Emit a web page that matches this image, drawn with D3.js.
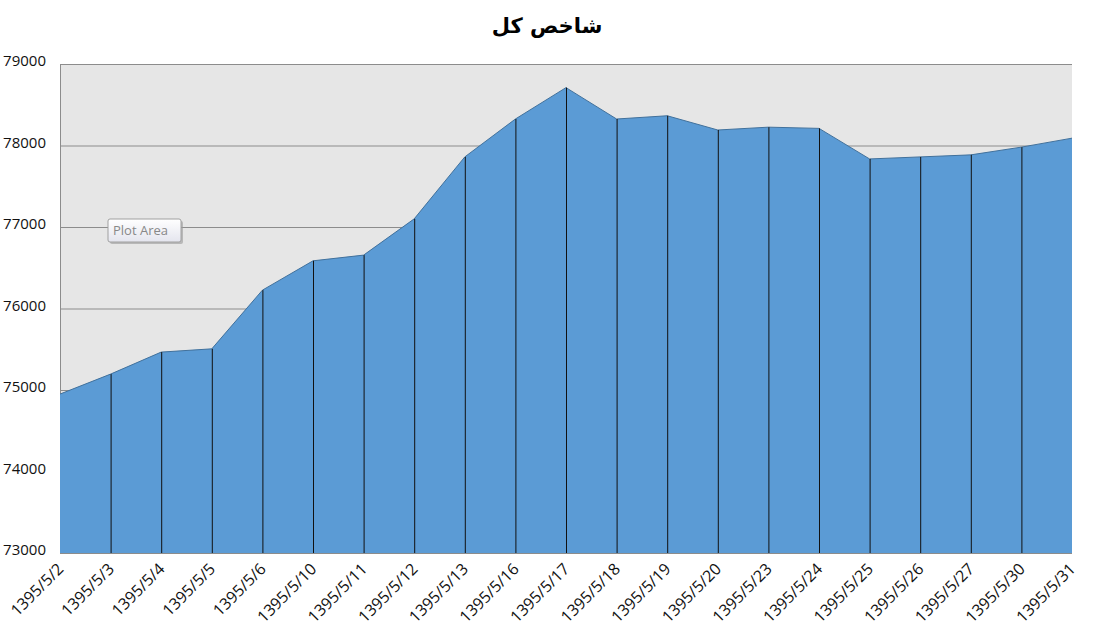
<!DOCTYPE html>
<html>
<head>
<meta charset="utf-8">
<script src="https://cdn.jsdelivr.net/npm/d3@7"></script>
<style>
  body { margin: 0; background: #fff; }
</style>
</head>
<body>
<div id="chart"></div>
<script>
const dates = ["1395/5/2", "1395/5/3", "1395/5/4", "1395/5/5", "1395/5/6", "1395/5/10", "1395/5/11", "1395/5/12", "1395/5/13", "1395/5/16", "1395/5/17", "1395/5/18", "1395/5/19", "1395/5/20", "1395/5/23", "1395/5/24", "1395/5/25", "1395/5/26", "1395/5/27", "1395/5/30", "1395/5/31"];
const values = [74950, 75195, 75465, 75505, 76225, 76585, 76655, 77100, 77860, 78325, 78710, 78325, 78365, 78190, 78225, 78210, 77835, 77860, 77885, 77980, 78090];
const yTicks = [73000, 74000, 75000, 76000, 77000, 78000, 79000];
const title = "شاخص کل";

const data = dates.map((d, i) => ({ date: d, value: values[i] }));

const svg = d3.select("#chart")
  .append("svg")
  .attr("width", 1095)
  .attr("height", 634);

const margin = { left: 60, top: 64, right: 1072, bottom: 553 };

const xScale = d3.scalePoint()
  .domain(dates)
  .range([margin.left, margin.right]);

const yScale = d3.scaleLinear()
  .domain([73000, 79000])
  .range([margin.bottom, margin.top]);

// plot background
svg.append("rect")
  .attr("x", margin.left)
  .attr("y", margin.top)
  .attr("width", margin.right - margin.left)
  .attr("height", margin.bottom - margin.top)
  .attr("fill", "#e6e6e6");

// gridlines + y labels
const yAxis = d3.axisLeft(yScale)
  .tickValues(yTicks)
  .tickSize(-(margin.right - margin.left))
  .tickPadding(14)
  .tickFormat(d3.format("d"));

const yAxisGroup = svg.append("g")
  .attr("transform", `translate(${margin.left},0)`)
  .call(yAxis);

yAxisGroup.select(".domain").attr("stroke", "#8c8c8c");
yAxisGroup.selectAll(".tick line")
  .attr("stroke", "#8c8c8c")
  .attr("stroke-width", 1);
yAxisGroup.selectAll(".tick text")
  .attr("fill", "#111")
  .attr("font-family", "Open Sans")
  .attr("font-size", 15)
  .attr("dy", "0.1em");

// area
const area = d3.area()
  .x(d => xScale(d.date))
  .y0(yScale(73000))
  .y1(d => yScale(d.value));

svg.append("path")
  .datum(data)
  .attr("d", area)
  .attr("fill", "#5b9bd5");

const line = d3.line()
  .x(d => xScale(d.date))
  .y(d => yScale(d.value));

svg.append("path")
  .datum(data)
  .attr("d", line)
  .attr("fill", "none")
  .attr("stroke", "#41719c")
  .attr("stroke-width", 1);

// drop lines
svg.selectAll(".drop")
  .data(data.slice(1, -1))
  .join("line")
  .attr("class", "drop")
  .attr("x1", d => xScale(d.date) + 0.5)
  .attr("x2", d => xScale(d.date) + 0.5)
  .attr("y1", d => yScale(d.value))
  .attr("y2", yScale(73000))
  .attr("stroke", "#111")
  .attr("stroke-width", 1);

// x axis labels
const xAxis = d3.axisBottom(xScale).tickSize(0).tickPadding(0);
const xAxisGroup = svg.append("g")
  .attr("transform", `translate(0,${margin.bottom})`)
  .call(xAxis);
xAxisGroup.select(".domain").remove();
xAxisGroup.selectAll(".tick text")
  .attr("fill", "#111")
  .attr("font-family", "Open Sans")
  .attr("font-size", 16)
  .attr("text-anchor", "end")
  .attr("dy", 0)
  .attr("transform", "translate(4,17) rotate(-45)");

// title
svg.append("text")
  .text(title)
  .attr("x", 547)
  .attr("y", 33)
  .attr("text-anchor", "middle")
  .attr("font-family", "DejaVu Sans")
  .attr("font-weight", 700)
  .attr("font-size", 21)
  .attr("fill", "#000");

// "Plot Area" tooltip box
const tip = svg.append("g").attr("transform", "translate(108,219)");
const defs = svg.append("defs");
const grad = defs.append("linearGradient")
  .attr("id", "tipGrad")
  .attr("x1", 0).attr("y1", 0).attr("x2", 0).attr("y2", 1);
grad.append("stop").attr("offset", "0%").attr("stop-color", "#ffffff");
grad.append("stop").attr("offset", "100%").attr("stop-color", "#e4e5ee");
tip.append("rect")
  .attr("x", 2).attr("y", 2)
  .attr("width", 73).attr("height", 23)
  .attr("rx", 2)
  .attr("fill", "#9a9a9a")
  .attr("opacity", 0.6);
tip.append("rect")
  .attr("width", 73).attr("height", 23)
  .attr("rx", 2)
  .attr("fill", "url(#tipGrad)")
  .attr("stroke", "#a0a0a0");
tip.append("text")
  .text("Plot Area")
  .attr("x", 5)
  .attr("y", 16)
  .attr("font-family", "Open Sans")
  .attr("font-size", 13)
  .attr("fill", "#888");
</script>
</body>
</html>
